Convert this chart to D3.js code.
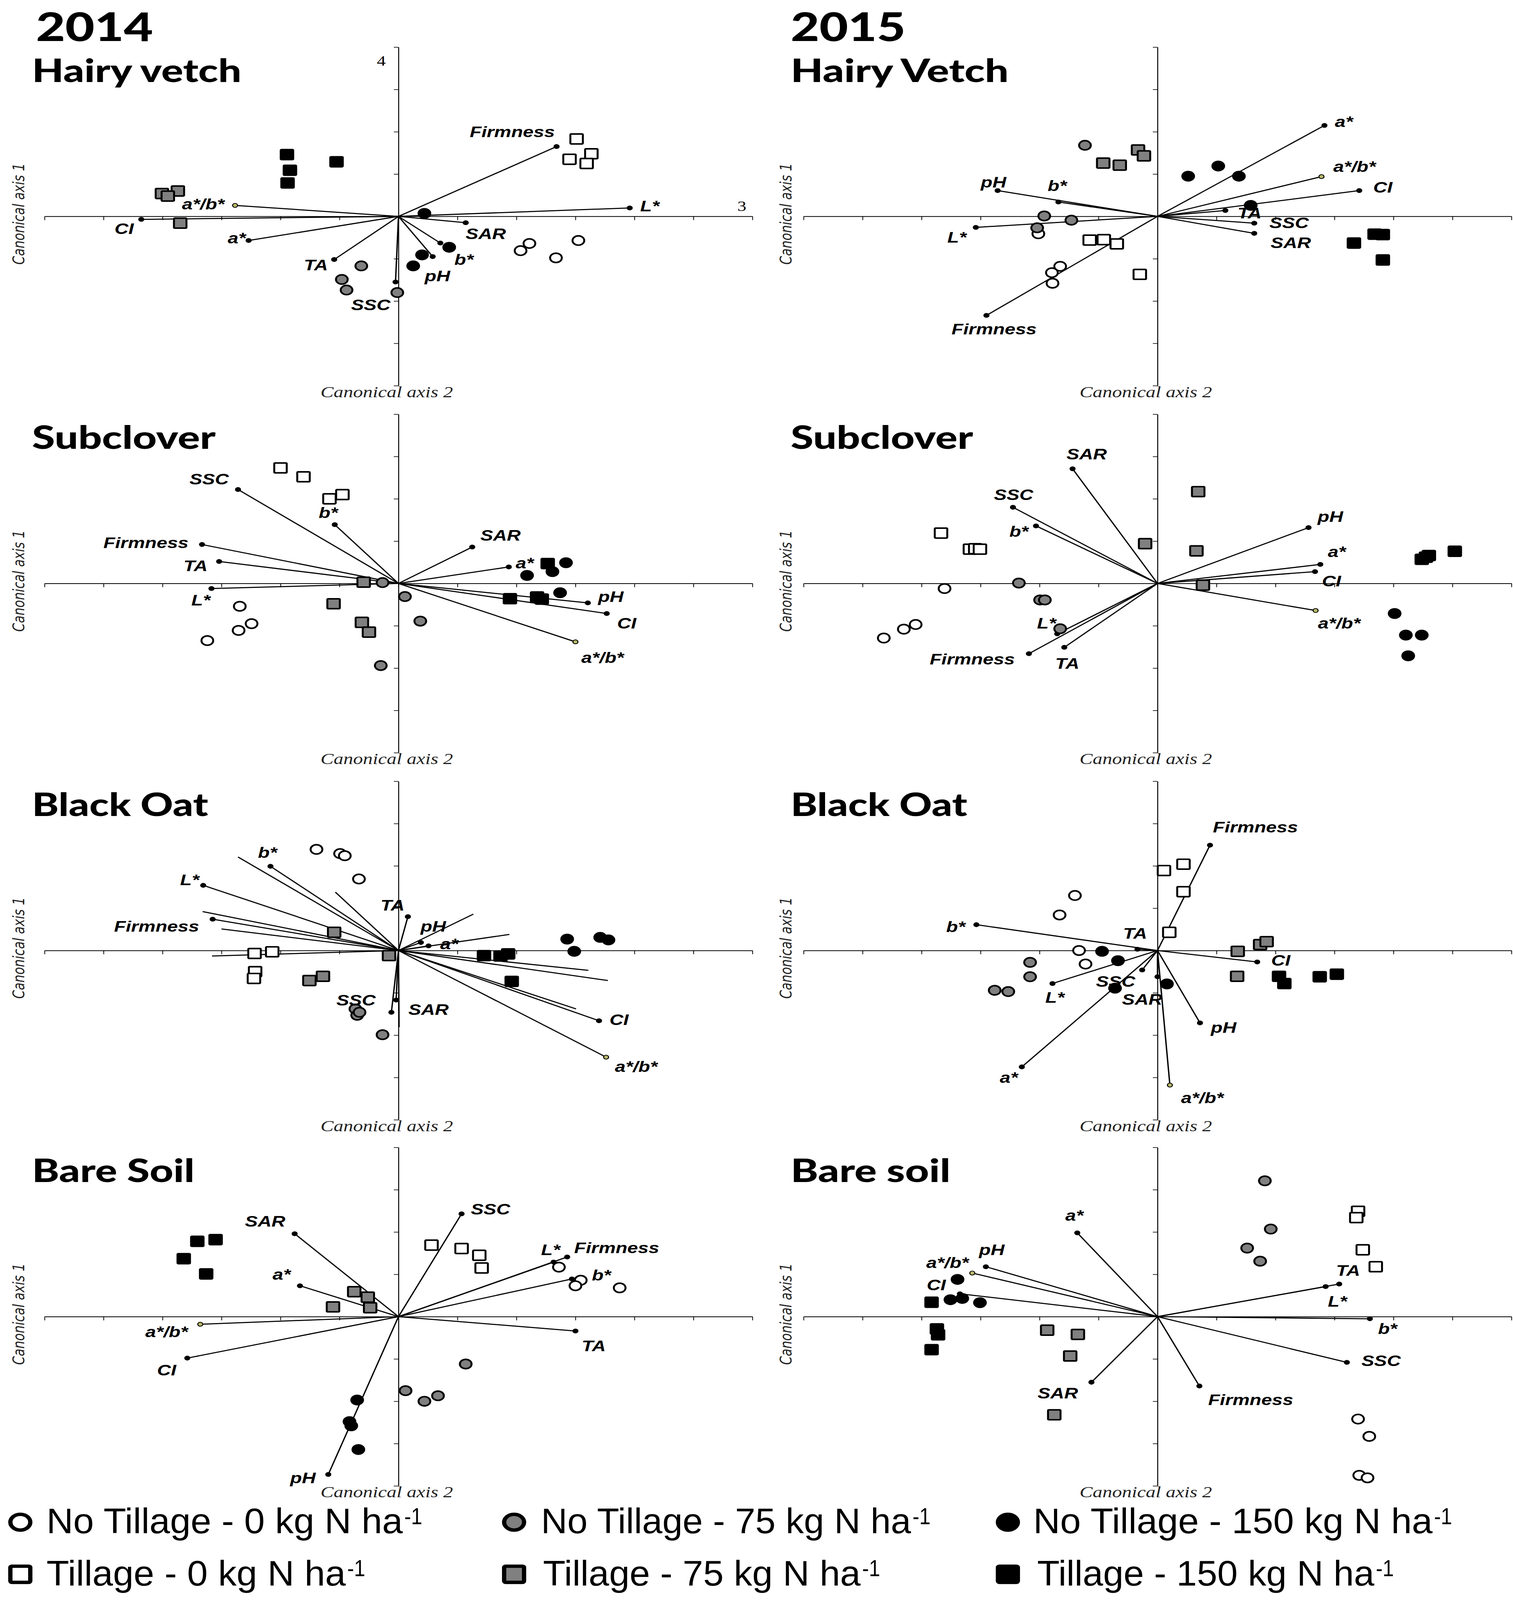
<!DOCTYPE html>
<html><head><meta charset="utf-8">
<script src="https://cdn.jsdelivr.net/npm/d3@7"></script>
<style>html,body{margin:0;padding:0;background:#fff;overflow:hidden}svg{display:block}</style>
</head><body>
<script>
// ---------------- DATA ----------------
const years = ["2014", "2015"];
const panelTitles = [["Hairy vetch","Hairy Vetch"],["Subclover","Subclover"],["Black Oat","Black Oat"],["Bare Soil","Bare soil"]];
const groupKeys = ["NT0","NT75","NT150","T0","T75","T150"];
const legendLabels = ["No Tillage - 0 kg N ha","No Tillage - 75 kg N ha","No Tillage - 150 kg N ha","Tillage - 0 kg N ha","Tillage - 75 kg N ha","Tillage - 150 kg N ha"];
const xTicks = d3.range(-6, 7);
const yTicks = d3.range(-4, 5);

// 2014 Hairy vetch
const hv14Vectors = [["Firmness",2.68,1.65],["L*",3.92,0.20],["SAR",1.14,-0.15],["b*",0.71,-0.63],["pH",0.58,-0.95],["SSC",-0.05,-1.55],["TA",-1.09,-1.02],["a*",-2.54,-0.57],["CI",-4.36,-0.07],["a*/b*",-2.77,0.26]];
const hv14Points = [
  [[2.22,-0.64],[2.07,-0.81],[3.05,-0.57],[2.67,-0.98]],
  [[-0.63,-1.17],[-0.96,-1.49],[-0.88,-1.74],[-0.02,-1.80]],
  [[0.44,0.07],[0.86,-0.73],[0.40,-0.91],[0.25,-1.17]],
  [[3.02,1.83],[3.27,1.48],[2.90,1.35],[3.19,1.25]],
  [[-4.01,0.54],[-3.74,0.60],[-3.91,0.48],[-3.70,-0.16]],
  [[-1.89,1.46],[-1.84,1.09],[-1.88,0.79],[-1.05,1.29]]];
// 2015 Hairy vetch
const hv15Vectors = [["a*",2.83,2.15],["a*/b*",2.78,0.94],["CI",3.42,0.61],["TA",1.15,0.14],["SSC",1.64,-0.16],["SAR",1.64,-0.40],["Firmness",-2.90,-2.34],["L*",-3.08,-0.26],["b*",-1.68,0.34],["pH",-2.71,0.61]];
const hv15Points = [
  [[-2.02,-0.41],[-1.65,-1.18],[-1.79,-1.33],[-1.78,-1.58]],
  [[-1.23,1.68],[-1.92,0.01],[-1.46,-0.09],[-2.04,-0.27]],
  [[0.52,0.95],[1.03,1.19],[1.38,0.95],[1.58,0.26]],
  [[-1.15,-0.56],[-0.91,-0.55],[-0.69,-0.65],[-0.30,-1.37]],
  [[-0.33,1.57],[-0.23,1.43],[-0.92,1.26],[-0.64,1.21]],
  [[3.68,-0.42],[3.82,-0.43],[3.33,-0.63],[3.82,-1.03]]];
// 2014 Subclover
const sc14Vectors = [["SSC",-2.72,2.22],["b*",-1.08,1.39],["Firmness",-3.33,0.92],["TA",-3.04,0.52],["L*",-3.17,-0.12],["SAR",1.25,0.86],["a*",1.87,0.39],["pH",3.21,-0.46],["CI",3.53,-0.71],["a*/b*",3.00,-1.38]];
const sc14Points = [
  [[-2.69,-0.54],[-2.49,-0.95],[-2.71,-1.11],[-3.24,-1.35]],
  [[-0.27,0.02],[0.11,-0.31],[0.37,-0.89],[-0.30,-1.94]],
  [[2.84,0.49],[2.61,0.28],[2.18,0.19],[2.74,-0.22]],
  [[-2.00,2.73],[-1.61,2.52],[-1.17,2.00],[-0.95,2.10]],
  [[-0.59,0.03],[-1.10,-0.48],[-0.62,-0.92],[-0.50,-1.15]],
  [[2.53,0.47],[1.89,-0.36],[2.35,-0.32],[2.43,-0.37]]];
// 2015 Subclover
const sc15Vectors = [["SAR",-1.44,2.71],["SSC",-2.45,1.80],["b*",-2.06,1.36],["pH",2.56,1.32],["a*",2.76,0.45],["CI",2.67,0.28],["a*/b*",2.68,-0.64],["L*",-1.70,-1.19],["Firmness",-2.18,-1.66],["TA",-1.58,-1.51]];
const sc15Points = [
  [[-3.61,-0.12],[-4.10,-0.97],[-4.30,-1.08],[-4.64,-1.29]],
  [[-2.35,0.01],[-1.99,-0.39],[-1.91,-0.39],[-1.65,-1.07]],
  [[4.02,-0.71],[4.21,-1.22],[4.48,-1.22],[4.25,-1.71]],
  [[-3.67,1.19],[-3.18,0.81],[-3.09,0.82],[-3.01,0.81]],
  [[0.69,2.17],[-0.21,0.94],[0.66,0.77],[0.77,-0.04]],
  [[4.48,0.57],[4.60,0.66],[5.04,0.76],[4.55,0.62]]];
// 2014 Black oat
const bo14Vectors = [["b*",-2.17,1.99],["L*",-3.31,1.54],["Firmness",-3.15,0.74],["TA",0.16,0.80],["pH",0.38,0.19],["a*",0.51,0.11],["SSC",-0.04,-1.17],["SAR",-0.12,-1.46],["CI",3.40,-1.66],["a*/b*",3.52,-2.52]];
const bo14Unlabelled = [[-2.72,2.21],[-1.07,1.38],[-3.32,0.92],[-3.00,0.51],[-3.16,-0.13],[1.27,0.86],[1.88,0.38],[3.22,-0.47],[3.55,-0.71],[3.01,-1.38],[0.01,-1.81]];
const bo14Points = [
  [[-1.39,2.39],[-0.99,2.29],[-0.91,2.24],[-0.67,1.69]],
  [[-0.73,-1.38],[-0.70,-1.53],[-0.66,-1.46],[-0.27,-1.99]],
  [[2.86,0.27],[3.42,0.31],[3.56,0.25],[2.98,-0.02]],
  [[-2.44,-0.07],[-2.14,-0.03],[-2.43,-0.50],[-2.45,-0.66]],
  [[-1.09,0.43],[-0.16,-0.12],[-1.28,-0.61],[-1.51,-0.71]],
  [[1.45,-0.12],[1.73,-0.13],[1.86,-0.08],[1.92,-0.73]]];
// 2015 Black oat
const bo15Vectors = [["Firmness",0.89,2.49],["b*",-3.07,0.61],["TA",-0.34,0.03],["CI",1.69,-0.27],["L*",-1.78,-0.78],["SSC",-0.26,-0.46],["SAR",0.00,-0.62],["pH",0.72,-1.71],["a*",-2.30,-2.75],["a*/b*",0.21,-3.18]];
const bo15Points = [
  [[-1.40,1.30],[-1.66,0.84],[-1.33,0.00],[-1.22,-0.32]],
  [[-2.16,-0.28],[-2.16,-0.62],[-2.76,-0.94],[-2.53,-0.97]],
  [[-0.94,-0.02],[-0.67,-0.24],[-0.72,-0.89],[0.16,-0.79]],
  [[0.11,1.89],[0.44,2.04],[0.44,1.39],[0.20,0.43]],
  [[1.36,-0.02],[1.74,0.14],[1.85,0.21],[1.35,-0.61]],
  [[2.06,-0.61],[2.15,-0.78],[2.75,-0.62],[3.04,-0.56]]];
// 2014 Bare soil
const bs14Vectors = [["SSC",1.07,2.43],["SAR",-1.76,1.96],["a*",-1.67,0.73],["L*",2.63,1.29],["Firmness",2.86,1.41],["b*",2.94,0.89],["TA",3.00,-0.34],["a*/b*",-3.36,-0.18],["CI",-3.58,-0.98],["pH",-1.19,-3.73]];
const bs14Points = [
  [[2.72,1.17],[3.09,0.86],[3.00,0.73],[3.75,0.68]],
  [[1.14,-1.12],[0.12,-1.75],[0.44,-2.00],[0.67,-1.87]],
  [[-0.70,-1.97],[-0.83,-2.48],[-0.80,-2.58],[-0.68,-3.14]],
  [[0.56,1.69],[1.07,1.61],[1.37,1.45],[1.41,1.15]],
  [[-0.75,0.59],[-0.52,0.46],[-1.11,0.23],[-0.48,0.21]],
  [[-3.41,1.78],[-3.10,1.82],[-3.64,1.37],[-3.26,1.01]]];
// 2015 Bare soil
const bs15Vectors = [["a*",-1.36,1.98],["pH",-2.91,1.18],["a*/b*",-3.14,1.03],["CI",-3.35,0.54],["TA",3.08,0.77],["L*",2.85,0.71],["b*",3.60,-0.05],["SSC",3.21,-1.08],["Firmness",0.71,-1.64],["SAR",-1.12,-1.55]];
const bs15Points = [
  [[3.40,-2.42],[3.59,-2.83],[3.42,-3.75],[3.56,-3.81]],
  [[1.82,3.21],[1.92,2.07],[1.52,1.62],[1.74,1.31]],
  [[-3.39,0.88],[-3.51,0.40],[-3.31,0.43],[-3.01,0.33]],
  [[3.40,2.49],[3.37,2.34],[3.48,1.58],[3.70,1.18]],
  [[-1.87,-0.32],[-1.35,-0.42],[-1.48,-0.93],[-1.75,-2.32]],
  [[-3.83,0.34],[-3.74,-0.29],[-3.72,-0.43],[-3.83,-0.78]]];

// ---------------- LAYOUT (label anchors in axis units) ----------------
const labelAt = {
  hv14:{"Firmness":[1.93,2.00],"L*":[4.26,0.25],"SAR":[1.48,-0.41],"b*":[1.11,-1.02],"pH":[0.66,-1.41],"SSC":[-0.47,-2.09],"TA":[-1.40,-1.15],"a*":[-2.74,-0.51],"CI":[-4.65,-0.29],"a*/b*":[-3.31,0.29]},
  hv15:{"a*":[3.16,2.24],"a*/b*":[3.34,1.18],"CI":[3.82,0.69],"TA":[1.56,0.08],"SSC":[2.23,-0.15],"SAR":[2.26,-0.62],"Firmness":[-2.77,-2.66],"L*":[-3.40,-0.49],"b*":[-1.70,0.73],"pH":[-2.78,0.81]},
  sc14:{"SSC":[-3.21,2.47],"b*":[-1.19,1.67],"Firmness":[-4.28,0.96],"TA":[-3.44,0.42],"L*":[-3.35,-0.39],"SAR":[1.73,1.14],"a*":[2.14,0.48],"pH":[3.60,-0.31],"CI":[3.87,-0.94],"a*/b*":[3.46,-1.75]},
  sc15:{"SAR":[-1.20,3.06],"SSC":[-2.44,2.10],"b*":[-2.35,1.23],"pH":[2.93,1.58],"a*":[3.04,0.75],"CI":[2.95,0.06],"a*/b*":[3.08,-0.94],"L*":[-1.88,-0.94],"Firmness":[-3.14,-1.79],"TA":[-1.53,-1.89]},
  bo14:{"b*":[-2.22,2.32],"L*":[-3.54,1.67],"Firmness":[-4.10,0.57],"TA":[-0.10,1.07],"pH":[0.59,0.57],"a*":[0.86,0.16],"SSC":[-0.72,-1.17],"SAR":[0.51,-1.39],"CI":[3.74,-1.63],"a*/b*":[4.03,-2.74]},
  bo15:{"Firmness":[1.66,2.92],"b*":[-3.42,0.56],"TA":[-0.38,0.41],"CI":[2.09,-0.23],"L*":[-1.74,-1.11],"SSC":[-0.71,-0.73],"SAR":[-0.26,-1.15],"pH":[1.12,-1.82],"a*":[-2.52,-3.00],"a*/b*":[0.76,-3.48]},
  bs14:{"SSC":[1.56,2.54],"SAR":[-2.26,2.25],"a*":[-1.98,1.00],"L*":[2.58,1.58],"Firmness":[3.70,1.63],"b*":[3.44,0.98],"TA":[3.31,-0.69],"a*/b*":[-3.93,-0.36],"CI":[-3.93,-1.26],"pH":[-1.62,-3.81]},
  bs15:{"a*":[-1.41,2.39],"pH":[-2.81,1.58],"a*/b*":[-3.56,1.28],"CI":[-3.75,0.75],"TA":[3.23,1.09],"L*":[3.05,0.36],"b*":[3.90,-0.28],"SSC":[3.79,-1.04],"Firmness":[1.58,-1.96],"SAR":[-1.69,-1.81]}
};

const panels = [
  {id:"hv14", row:0, col:0, vectors:hv14Vectors, points:hv14Points},
  {id:"hv15", row:0, col:1, vectors:hv15Vectors, points:hv15Points},
  {id:"sc14", row:1, col:0, vectors:sc14Vectors, points:sc14Points},
  {id:"sc15", row:1, col:1, vectors:sc15Vectors, points:sc15Points},
  {id:"bo14", row:2, col:0, vectors:bo14Vectors, points:bo14Points, extra:bo14Unlabelled},
  {id:"bo15", row:2, col:1, vectors:bo15Vectors, points:bo15Points},
  {id:"bs14", row:3, col:0, vectors:bs14Vectors, points:bs14Points},
  {id:"bs15", row:3, col:1, vectors:bs15Vectors, points:bs15Points}
];

const groupStyle = {
  NT0:{shape:"circle", fill:"#ffffff"}, NT75:{shape:"circle", fill:"#808080"}, NT150:{shape:"circle", fill:"#000000"},
  T0:{shape:"square", fill:"#ffffff"}, T75:{shape:"square", fill:"#808080"}, T150:{shape:"square", fill:"#000000"}
};

// The chart is laid out in a 3873 x 5161 design space and fitted to the window.
const W = 3873, H = 5161;
const vw = window.innerWidth || W, vh = window.innerHeight || H;
const colX = [1020, 2963];
const rowY = [698, 1882, 3066, 4247];
const halfW = 906, halfH = 546;

const svg = d3.select("body").append("svg").attr("width", vw).attr("height", vh)
  .attr("viewBox", `0 0 ${W} ${H}`).attr("preserveAspectRatio", "none");
svg.append("rect").attr("width", W).attr("height", H).attr("fill", "#fff");

const titleFont = "Lato, 'Open Sans', sans-serif";
const labFont = "'Liberation Sans', Arial, sans-serif";

// place a text so that its rendered width equals `target` (horizontal scaling)
function fitText(sel, x, y, target) {
  const w = sel.node().getComputedTextLength() || target;
  sel.attr("x", 0).attr("y", 0).attr("transform", `translate(${x},${y}) scale(${target / w},1)`);
  return sel;
}

// Year headings
const yearLen = [300, 294];
years.forEach((yr, i) => {
  const t = svg.append("text").attr("font-family", titleFont).attr("font-weight", 900).attr("font-size", 128).text(yr);
  fitText(t, i === 0 ? 92 : 2024, 132, yearLen[i]);
});
const titleLen = [[536, 558], [470, 467], [451, 452], [416, 409]];

panels.forEach(p => {
  const cx = colX[p.col], cy = rowY[p.row];
  const x = d3.scaleLinear().domain([-6, 6]).range([cx - halfW, cx + halfW]);
  const y = d3.scaleLinear().domain([-4, 4]).range([cy + halfH, cy - halfH]);
  const g = svg.append("g");

  // panel title
  const tt = g.append("text").attr("font-family", titleFont).attr("font-weight", 900).attr("font-size", 104)
    .text(panelTitles[p.row][p.col]);
  fitText(tt, p.col === 0 ? 82 : 2024, cy - 434, titleLen[p.row][p.col]);

  // axes
  const ax = g.append("g").attr("transform", `translate(0,${y(0)})`)
    .call(d3.axisBottom(x).tickValues(xTicks).tickSize(12).tickSizeOuter(0).tickFormat(""));
  const ay = g.append("g").attr("transform", `translate(${x(0)},0)`)
    .call(d3.axisLeft(y).tickValues(yTicks).tickSize(12).tickSizeOuter(0).tickFormat(""));
  [ax, ay].forEach(a => {
    a.select(".domain").attr("stroke", "#000").attr("stroke-width", 2.5);
    a.selectAll(".tick line").attr("stroke", "#000").attr("stroke-width", 2);
  });

  // axis titles
  g.append("text").attr("x", x(0) - 30).attr("y", cy + 583).attr("text-anchor", "middle")
    .attr("font-family", "'Liberation Serif', 'Times New Roman', serif").attr("font-style", "italic")
    .attr("font-size", 50).attr("fill", "#222").text("Canonical axis 2");
  const a1x = p.col === 0 ? 62 : 2026;
  g.append("text").attr("transform", `translate(${a1x},${cy - 8}) rotate(-90)`).attr("text-anchor", "middle")
    .attr("font-family", "'DejaVu Sans', Verdana, sans-serif").attr("font-style", "italic")
    .attr("font-size", 40).attr("fill", "#222").text("Canonical axis 1");

  // unlabelled residual lines
  if (p.extra) {
    g.selectAll("line.extra").data(p.extra).join("line").attr("class", "extra")
      .attr("x1", x(0)).attr("y1", y(0)).attr("x2", d => x(d[0])).attr("y2", d => y(d[1]))
      .attr("stroke", "#000").attr("stroke-width", 3.5);
  }
  // vectors
  g.selectAll("line.vec").data(p.vectors).join("line").attr("class", "vec")
    .attr("x1", x(0)).attr("y1", y(0)).attr("x2", d => x(d[1])).attr("y2", d => y(d[2]))
    .attr("stroke", "#000").attr("stroke-width", 3.5);
  g.selectAll("circle.tip").data(p.vectors).join("circle").attr("class", "tip")
    .attr("cx", d => x(d[1])).attr("cy", d => y(d[2])).attr("r", 6.5)
    .attr("fill", d => d[0] === "a*/b*" ? "#b8b86a" : "#000").attr("stroke", "#000").attr("stroke-width", 2.5);

  // points
  p.points.forEach((pts, gi) => {
    const st = groupStyle[groupKeys[gi]];
    if (st.shape === "circle") {
      g.selectAll(`circle.g${gi}`).data(pts).join("circle").attr("class", `g${gi}`)
        .attr("cx", d => x(d[0])).attr("cy", d => y(d[1])).attr("r", 15)
        .attr("fill", st.fill).attr("stroke", "#000").attr("stroke-width", 5);
    } else {
      g.selectAll(`rect.g${gi}`).data(pts).join("rect").attr("class", `g${gi}`)
        .attr("x", d => x(d[0]) - 16).attr("y", d => y(d[1]) - 16).attr("width", 32).attr("height", 32)
        .attr("rx", 2).attr("fill", st.fill).attr("stroke", "#000").attr("stroke-width", 5);
    }
  });

  // vector labels
  const la = labelAt[p.id];
  g.selectAll("text.vl").data(p.vectors).join("text").attr("class", "vl")
    .attr("x", d => x(la[d[0]][0])).attr("y", d => y(la[d[0]][1]))
    .attr("text-anchor", "middle").attr("dominant-baseline", "central")
    .attr("font-family", labFont).attr("font-weight", "bold").attr("font-style", "italic")
    .attr("font-size", 49).text(d => d[0]);
});

// odd axis numbers in first panel
svg.append("text").attr("x", 976).attr("y", 212).attr("text-anchor", "middle")
  .attr("font-family", "'Liberation Serif', serif").attr("font-size", 46).text("4");
svg.append("text").attr("x", 1899).attr("y", 680).attr("text-anchor", "middle")
  .attr("font-family", "'Liberation Serif', serif").attr("font-size", 46).text("3");

// ---------------- LEGEND ----------------
const legX = [52, 1316, 2580];
const legY = [4910, 5078];
const legTextX = [[119, 1385, 2645], [119, 1390, 2655]];
const legTextLen = [[912, 947, 1022], [766, 813, 863]];
const legBase = [4946, 5114];
const legFont = "'Liberation Sans', Arial, sans-serif";
groupKeys.forEach((k, i) => {
  const r = i < 3 ? 0 : 1, c = i % 3;
  const st = groupStyle[k];
  if (st.shape === "circle") {
    svg.append("circle").attr("cx", legX[c]).attr("cy", legY[r]).attr("r", 25.5)
      .attr("fill", st.fill).attr("stroke", "#000").attr("stroke-width", 11);
  } else {
    svg.append("rect").attr("x", legX[c] - 25.5).attr("y", legY[r] - 26).attr("width", 51).attr("height", 52)
      .attr("rx", 4).attr("fill", st.fill).attr("stroke", "#000").attr("stroke-width", 11);
  }
  const tx = legTextX[r][c], tl = legTextLen[r][c];
  const main = svg.append("text").attr("font-family", legFont).attr("font-size", 115).text(legendLabels[i]);
  fitText(main, tx, legBase[r], tl);
  const sup = svg.append("text").attr("font-family", legFont).attr("font-size", 74).text("-1");
  fitText(sup, tx + tl + 4, legBase[r] - 30, 46);
});
</script>
</body></html>
